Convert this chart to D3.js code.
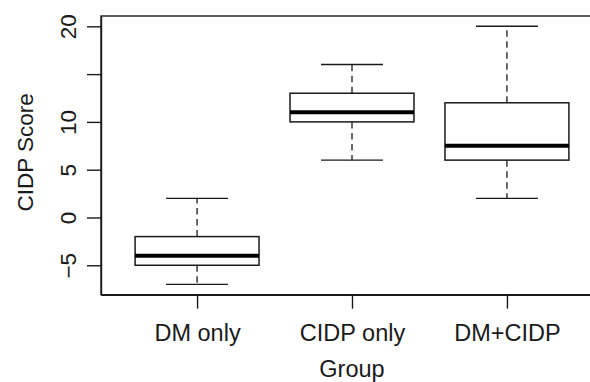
<!DOCTYPE html>
<html>
<head>
<meta charset="utf-8">
<script src="https://cdn.jsdelivr.net/npm/d3@7"></script>
<style>
  html, body { margin: 0; padding: 0; background: #fff; }
  svg { display: block; }
  text { font-family: "Liberation Sans", Arial, Helvetica, sans-serif; fill: #1a1a1a; }
</style>
</head>
<body>
<svg id="chart" width="590" height="382"></svg>
<script>
// ---- data ----
const groups = ["DM only", "CIDP only", "DM+CIDP"];
const whiskerLow = [-7, 6, 2];
const q1 = [-5, 10, 6];
const median = [-4, 11, 7.5];
const q3 = [-2, 13, 12];
const whiskerHigh = [2, 16, 20];
const yTicks = [-5, 0, 5, 10, 15, 20];
const yTickLabels = ["\u22125", "0", "5", "10", "", "20"];
const xLabel = "Group";
const yLabel = "CIDP Score";

const boxes = groups.map((g, i) => ({
  name: g, pos: i + 1,
  lo: whiskerLow[i], q1: q1[i], med: median[i], q3: q3[i], hi: whiskerHigh[i]
}));

// ---- layout ----
const svg = d3.select("#chart");
const plotLeft = 101, plotRight = 603, plotTop = 16, plotBottom = 294.7;

const x = d3.scaleLinear().domain([0.38, 3.62]).range([plotLeft, plotRight]);
const y = d3.scaleLinear().domain([-8.08, 21.08]).range([plotBottom, plotTop]);

const ink = "#1a1a1a";
const boxHalf = 0.4, capHalf = 0.2;

// plot frame
svg.append("rect")
  .attr("x", plotLeft).attr("y", plotTop)
  .attr("width", plotRight - plotLeft).attr("height", plotBottom - plotTop)
  .attr("fill", "none").attr("stroke", ink).attr("stroke-width", 1.4);

const g = svg.append("g");
const bx = g.selectAll("g.box").data(boxes).join("g").attr("class", "box");

// whiskers (dashed)
bx.append("line")
  .attr("x1", d => x(d.pos)).attr("x2", d => x(d.pos))
  .attr("y1", d => y(d.q3)).attr("y2", d => y(d.hi))
  .attr("stroke", ink).attr("stroke-width", 1.3).attr("stroke-dasharray", "6.5,4.5");
bx.append("line")
  .attr("x1", d => x(d.pos)).attr("x2", d => x(d.pos))
  .attr("y1", d => y(d.q1)).attr("y2", d => y(d.lo))
  .attr("stroke", ink).attr("stroke-width", 1.3).attr("stroke-dasharray", "6.5,4.5");
// caps
bx.append("line")
  .attr("x1", d => x(d.pos - capHalf)).attr("x2", d => x(d.pos + capHalf))
  .attr("y1", d => y(d.hi)).attr("y2", d => y(d.hi))
  .attr("stroke", ink).attr("stroke-width", 1.4);
bx.append("line")
  .attr("x1", d => x(d.pos - capHalf)).attr("x2", d => x(d.pos + capHalf))
  .attr("y1", d => y(d.lo)).attr("y2", d => y(d.lo))
  .attr("stroke", ink).attr("stroke-width", 1.4);
// box
bx.append("rect")
  .attr("x", d => x(d.pos - boxHalf))
  .attr("width", d => x(d.pos + boxHalf) - x(d.pos - boxHalf))
  .attr("y", d => y(d.q3))
  .attr("height", d => y(d.q1) - y(d.q3))
  .attr("fill", "#fff").attr("stroke", ink).attr("stroke-width", 1.5);
// median
bx.append("line")
  .attr("x1", d => x(d.pos - boxHalf)).attr("x2", d => x(d.pos + boxHalf))
  .attr("y1", d => y(d.med)).attr("y2", d => y(d.med))
  .attr("stroke", "#000").attr("stroke-width", 4);

// y axis
const yAxis = d3.axisLeft(y).tickValues(yTicks)
  .tickFormat((d, i) => yTickLabels[i]).tickSize(14).tickSizeOuter(0);
const ya = svg.append("g").attr("transform", `translate(${plotLeft},0)`).call(yAxis);
ya.select(".domain").attr("stroke", ink).attr("stroke-width", 1.4);
ya.selectAll(".tick line").attr("stroke", ink).attr("stroke-width", 1.4);
ya.selectAll(".tick text")
  .attr("x", 0).attr("y", 0).attr("dy", null)
  .attr("transform", d => `translate(-25,0) rotate(-90)`)
  .attr("text-anchor", "middle")
  .style("font-size", "22.5px")
  .style("font-family", "'Liberation Sans', Arial, sans-serif")
  .attr("fill", ink);

// x axis
const xAxis = d3.axisBottom(x).tickValues(boxes.map(d => d.pos))
  .tickFormat((d, i) => groups[i]).tickSize(14).tickSizeOuter(0);
const xa = svg.append("g").attr("transform", `translate(0,${plotBottom})`).call(xAxis);
xa.select(".domain").attr("stroke", ink).attr("stroke-width", 1.4);
xa.selectAll(".tick line").attr("stroke", ink).attr("stroke-width", 1.4);
xa.selectAll(".tick text")
  .attr("y", 46).attr("dy", null)
  .style("font-size", "23.5px")
  .style("font-family", "'Liberation Sans', Arial, sans-serif")
  .attr("fill", ink);

// axis titles
svg.append("text")
  .attr("x", (plotLeft + plotRight) / 2).attr("y", 376.5)
  .attr("text-anchor", "middle").style("font-size", "23.5px")
  .text(xLabel);
svg.append("text")
  .attr("transform", `translate(33,${(plotTop + plotBottom) / 2 - 3}) rotate(-90)`)
  .attr("text-anchor", "middle").style("font-size", "22.5px")
  .text(yLabel);
</script>
</body>
</html>
